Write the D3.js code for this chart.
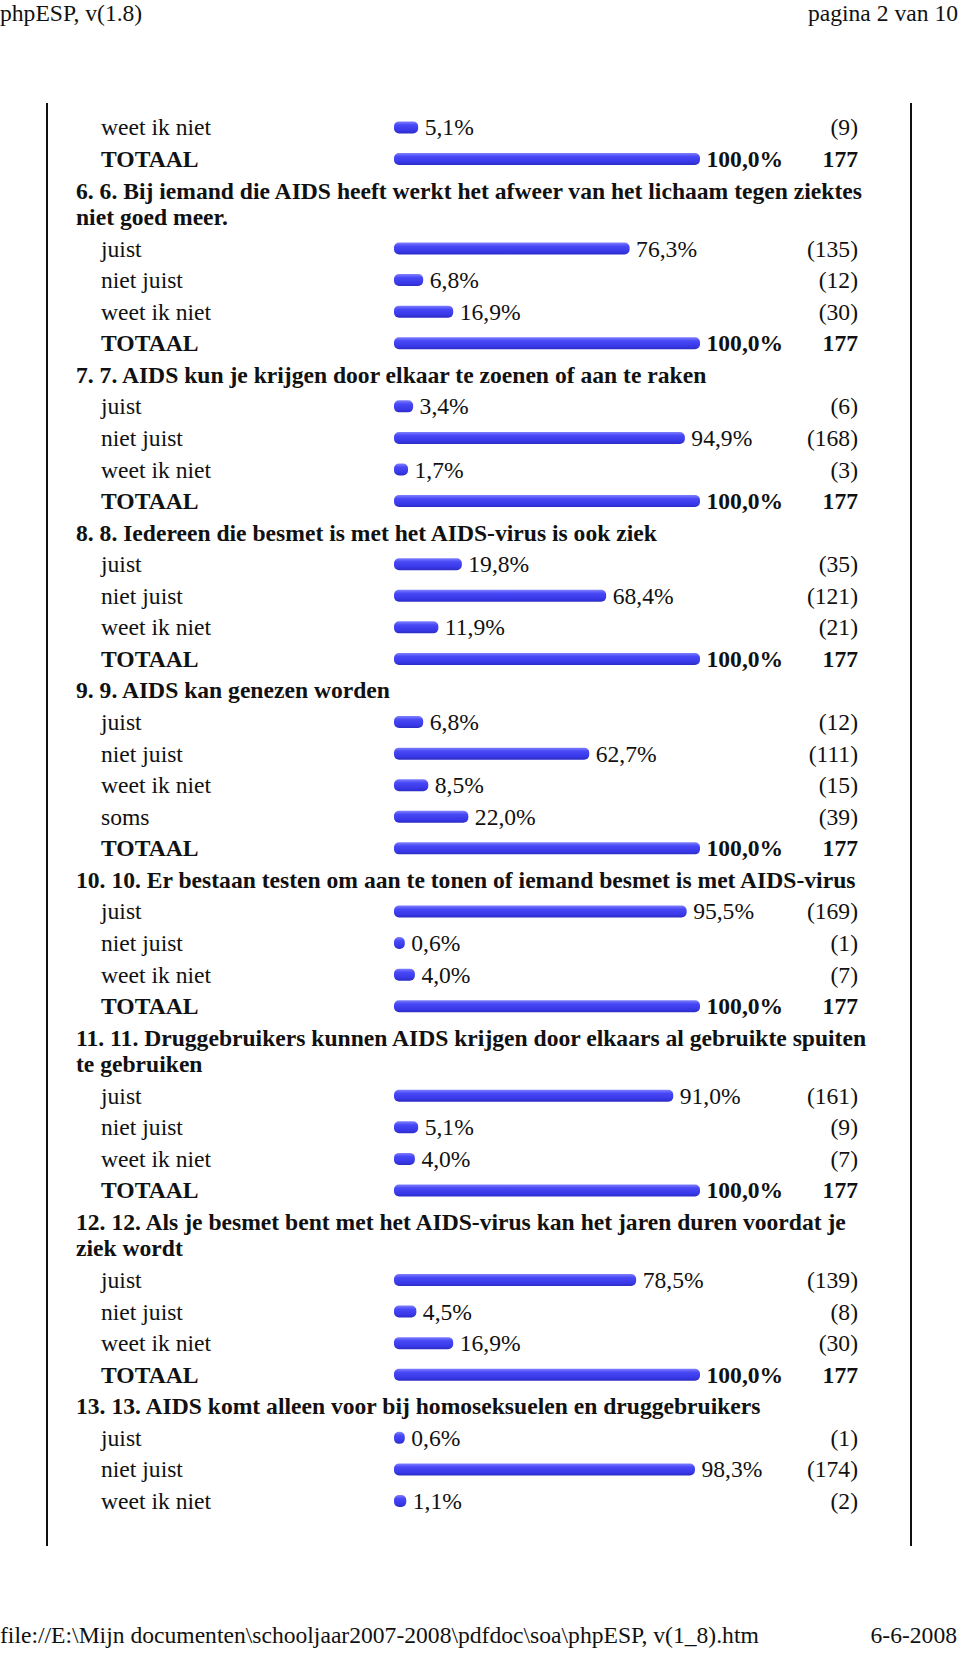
<!DOCTYPE html>
<html>
<head>
<meta charset="utf-8">
<script src="https://cdn.jsdelivr.net/npm/d3@7"></script>
<style>
  html, body { margin: 0; padding: 0; background: #fff; }
  svg { display: block; }
  text { font-family: "Liberation Serif", "Times New Roman", Times, serif; fill: #111; }
</style>
</head>
<body>
<script>
// ---------------- data ----------------
const titles = [
  null,
  ["6. 6. Bij iemand die AIDS heeft werkt het afweer van het lichaam tegen ziektes", "niet goed meer."],
  ["7. 7. AIDS kun je krijgen door elkaar te zoenen of aan te raken"],
  ["8. 8. Iedereen die besmet is met het AIDS-virus is ook ziek"],
  ["9. 9. AIDS kan genezen worden"],
  ["10. 10. Er bestaan testen om aan te tonen of iemand besmet is met AIDS-virus"],
  ["11. 11. Druggebruikers kunnen AIDS krijgen door elkaars al gebruikte spuiten", "te gebruiken"],
  ["12. 12. Als je besmet bent met het AIDS-virus kan het jaren duren voordat je", "ziek wordt"],
  ["13. 13. AIDS komt alleen voor bij homoseksuelen en druggebruikers"]
];
const answers = [
  ["weet ik niet"],
  ["juist", "niet juist", "weet ik niet"],
  ["juist", "niet juist", "weet ik niet"],
  ["juist", "niet juist", "weet ik niet"],
  ["juist", "niet juist", "weet ik niet", "soms"],
  ["juist", "niet juist", "weet ik niet"],
  ["juist", "niet juist", "weet ik niet"],
  ["juist", "niet juist", "weet ik niet"],
  ["juist", "niet juist", "weet ik niet"]
];
const percents = [
  [5.1],
  [76.3, 6.8, 16.9],
  [3.4, 94.9, 1.7],
  [19.8, 68.4, 11.9],
  [6.8, 62.7, 8.5, 22.0],
  [95.5, 0.6, 4.0],
  [91.0, 5.1, 4.0],
  [78.5, 4.5, 16.9],
  [0.6, 98.3, 1.1]
];
const counts = [
  [9],
  [135, 12, 30],
  [6, 168, 3],
  [35, 121, 21],
  [12, 111, 15, 39],
  [169, 1, 7],
  [161, 9, 7],
  [139, 8, 30],
  [1, 174, 2]
];
const hasTotal = [true, true, true, true, true, true, true, true, false];
const totalLabel = "TOTAAL";
const totalPercent = 100.0;
const totalCount = 177;
const headerLeft = "phpESP, v(1.8)";
const headerRight = "pagina 2 van 10";
const footerLeft = "file://E:\\Mijn documenten\\schooljaar2007-2008\\pdfdoc\\soa\\phpESP, v(1_8).htm";
const footerRight = "6-6-2008";

// ---------------- layout ----------------
const W = 960, H = 1654;
const svg = d3.select("body").append("svg").attr("width", W).attr("height", H);

const defs = svg.append("defs");
const grad = defs.append("linearGradient").attr("id", "barGrad")
  .attr("x1", 0).attr("y1", 0).attr("x2", 0).attr("y2", 1);
grad.append("stop").attr("offset", "0%").attr("stop-color", "#8080ff");
grad.append("stop").attr("offset", "30%").attr("stop-color", "#4848f6");
grad.append("stop").attr("offset", "75%").attr("stop-color", "#3838e8");
grad.append("stop").attr("offset", "100%").attr("stop-color", "#2c2cc4");

const FS = 23.6;
const fmtPct = v => d3.format(".1f")(v).replace(".", ",") + "%";

// build row list
const rows = [];
let unit = 0;
const WRAP = 26.4 / 31.56;
titles.forEach((t, qi) => {
  if (t) {
    t.forEach((line, li) => {
      if (li > 0) unit += WRAP;
      rows.push({ type: "title", text: line, u: unit });
    });
    unit += 1;
  }
  answers[qi].forEach((a, ai) => {
    rows.push({ type: "answer", label: a, pct: percents[qi][ai], count: "(" + counts[qi][ai] + ")", bold: false, u: unit });
    unit += 1;
  });
  if (hasTotal[qi]) {
    rows.push({ type: "answer", label: totalLabel, pct: totalPercent, count: String(totalCount), bold: true, u: unit });
    unit += 1;
  }
});

const y = d3.scaleLinear().domain([0, 1]).range([135.4, 135.4 + 31.57]);
const x = d3.scaleLinear().domain([0, 100]).range([0, 297]);
const barX0 = 394, capW = 9, barH = 12;

// header & footer
svg.append("text").attr("x", 0).attr("y", 21).attr("font-size", FS).text(headerLeft);
svg.append("text").attr("x", 958).attr("y", 21).attr("font-size", FS).attr("text-anchor", "end").text(headerRight);
svg.append("text").attr("x", 0).attr("y", 1643).attr("font-size", FS).text(footerLeft);
svg.append("text").attr("x", 957).attr("y", 1643).attr("font-size", FS).attr("text-anchor", "end").text(footerRight);

// frame lines
[47, 911].forEach(lx => {
  svg.append("line").attr("x1", lx).attr("x2", lx).attr("y1", 103).attr("y2", 1546)
    .attr("stroke", "#111").attr("stroke-width", 2);
});

// titles
svg.selectAll("text.title").data(rows.filter(r => r.type === "title")).join("text")
  .attr("class", "title")
  .attr("x", 76).attr("y", d => y(d.u))
  .attr("font-size", FS).attr("font-weight", "bold")
  .text(d => d.text);

const ans = rows.filter(r => r.type === "answer");
const g = svg.selectAll("g.ans").data(ans).join("g").attr("class", "ans")
  .attr("transform", d => `translate(0,${y(d.u)})`);

g.append("text").attr("x", 101).attr("y", 0).attr("font-size", FS)
  .attr("font-weight", d => d.bold ? "bold" : "normal").text(d => d.label);

g.append("rect").attr("x", barX0).attr("y", -14).attr("height", barH)
  .attr("width", d => capW + x(d.pct)).attr("rx", 5).attr("ry", 5)
  .attr("fill", "url(#barGrad)");

g.append("text").attr("x", d => barX0 + capW + x(d.pct) + 6.5).attr("y", 0)
  .attr("font-size", FS).attr("font-weight", d => d.bold ? "bold" : "normal")
  .text(d => fmtPct(d.pct));

g.append("text").attr("x", 858).attr("y", 0).attr("text-anchor", "end")
  .attr("font-size", FS).attr("font-weight", d => d.bold ? "bold" : "normal")
  .text(d => d.count);
</script>
</body>
</html>
